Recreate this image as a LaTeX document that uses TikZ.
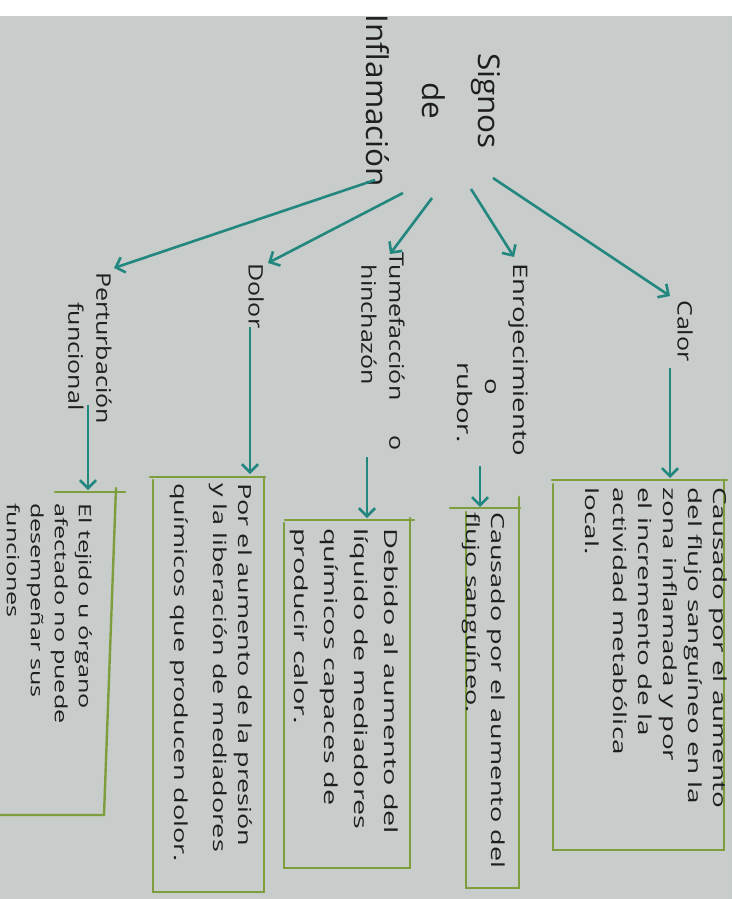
\documentclass[tikz,border=0pt]{standalone}
\usepackage{fontspec}
\setmainfont{Open Sans}
\usetikzlibrary{arrows.meta}
\definecolor{paper}{HTML}{C8CCCA}
\definecolor{tealc}{HTML}{22877F}
\definecolor{olivec}{HTML}{7E9E3E}
\definecolor{ink}{HTML}{1E1E1E}
\begin{document}
\begin{tikzpicture}[x=1pt,y=-1pt,
  lab/.style={rotate=-90, xscale=1.25, text=ink, inner sep=0pt, font=\fontsize{20}{28}\selectfont},
  boxtxt/.style={rotate=-90, text=ink, inner sep=0pt, align=left, anchor=north west, font=\fontsize{18}{25}\selectfont},
  arr/.style={draw=tealc, line width=2.6pt, -{Straight Barb[length=8pt,width=16pt]}},
  boxline/.style={draw=olivec, line width=2.4pt, line cap=round}]
\fill[white] (0,0) rectangle (732,899);
\fill[paper] (0,16) rectangle (732,899);
\useasboundingbox (0,0) rectangle (732,899);

% title
\node[rotate=-90, xscale=1.05, text=ink, inner sep=0pt, align=center, font=\fontsize{30}{56}\selectfont] (title) at (433,101) {Signos\\de\\Inflamación};

% level 1 labels
\node[lab, anchor=west] (calor) at (685,300) {Calor};
\node[lab, xscale=1.1, anchor=north west, align=left] (enro) at (528,263) {Enrojecimiento\\\hspace*{4.2em}o\\\hspace*{3.6em}rubor.};
\node[lab, anchor=north west, align=left] (tume) at (405,252) {Tumefacción\hspace{1.4em}o\\\hspace*{0.5em}hinchazón};
\node[lab, anchor=west] (dolor) at (256,263) {Dolor};
\node[lab, anchor=north west, align=left] (pert) at (112,272) {Perturbación\\\hspace*{1.2em}funcional};

% arrow end points
\coordinate (s1) at (493,178); \coordinate (e1) at (670,296);
\coordinate (s2) at (471,189); \coordinate (e2) at (514,257);
\coordinate (s3) at (432,198); \coordinate (e3) at (390,254);
\coordinate (s4) at (403,193); \coordinate (e4) at (268,263);
\coordinate (s5) at (375,180); \coordinate (e5) at (114,268);
\draw[arr] (s1) -- (e1);
\draw[arr] (s2) -- (e2);
\draw[arr] (s3) -- (e3);
\draw[arr] (s4) -- (e4);
\draw[arr] (s5) -- (e5);

\coordinate (c1) at (670,368); \coordinate (c2) at (670,478);
\coordinate (r1) at (480,466); \coordinate (r2) at (480,507);
\coordinate (h1) at (367,457); \coordinate (h2) at (367,518);
\coordinate (d1) at (250,327); \coordinate (d2) at (250,474);
\coordinate (p1) at (88,405);  \coordinate (p2) at (88,490);
\draw[arr] (c1) -- (c2);
\draw[arr] (r1) -- (r2);
\draw[arr] (h1) -- (h2);
\draw[arr] (d1) -- (d2);
\draw[arr] (p1) -- (p2);

% boxes
\draw[boxline] (552,480) -- (727,480);
\draw[boxline] (724,480) -- (724,850) -- (553,850) -- (553,484);
\draw[boxline] (450,508) -- (520,508);
\draw[boxline] (519,497) -- (519,888) -- (466,888) -- (466,512);
\draw[boxline] (285,520) -- (414,520);
\draw[boxline] (410,518) -- (410,868) -- (284,868) -- (284,523);
\draw[boxline] (150,477) -- (265,477);
\draw[boxline] (264,477) -- (264,892) -- (153,892) -- (153,480);
\draw[boxline] (55,492) -- (125,492);
\draw[boxline] (116,488) -- (104,815) -- (0,815);

% box texts
\node[boxtxt, xscale=1.55] (tcalor) at (727,487) {Causado por el aumento\\del flujo sanguíneo en la\\zona inflamada y por\\el incremento de la\\actividad metabólica\\[3pt]local.};
\node[boxtxt, xscale=1.5] (tenro) at (505,512) {Causado por el aumento del\\flujo sanguíneo.};
\node[boxtxt, xscale=1.6, font=\fontsize{18}{30}\selectfont] (ttume) at (398,528) {Debido al aumento del\\líquido de mediadores\\químicos capaces de\\producir calor.};
\node[boxtxt, xscale=1.5] (tdolor) at (252,483) {Por el aumento de la presión\\y la liberación de mediadores\\[14pt]químicos que producen dolor.};
\node[boxtxt, xscale=1.48, font=\fontsize{17}{24}\selectfont] (tpert) at (92,503) {El tejido u órgano\\afectado no puede\\desempeñar sus\\funciones};
\end{tikzpicture}
\end{document}
